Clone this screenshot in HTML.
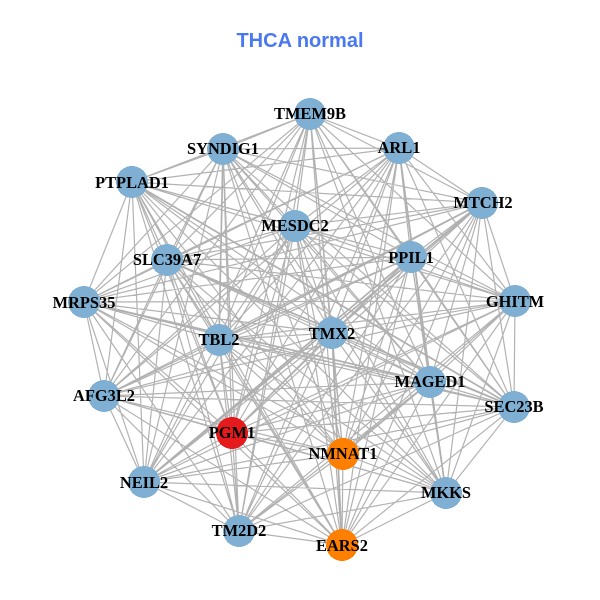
<!DOCTYPE html>
<html>
<head>
<meta charset="utf-8">
<style>
html,body{margin:0;padding:0;background:#fff;width:600px;height:600px;overflow:hidden}
svg{display:block}
.l{font-family:"Liberation Serif",serif;font-weight:bold;font-size:16.4px;fill:#000;text-anchor:middle}
</style>
</head>
<body>
<svg width="600" height="600" viewBox="0 0 600 600" xmlns="http://www.w3.org/2000/svg">
<rect width="600" height="600" fill="#fff"/>
<text x="300" y="47" text-anchor="middle" style="font-family:'Liberation Sans',sans-serif;font-weight:bold;font-size:20px" fill="#4a78f0">THCA normal</text>
<path fill="none" stroke="#b2b2b2" stroke-width="1.2" d="
M310 114 399 148 310 114 482 203 310 114 515 301 310 114 514 407 310 114 446 493 310 114 342 545 310 114 239 531 310 114 144 482 310 114 104 396 310 114 84 302 310 114 132 182 310 114 223 149 310 114 167 260 310 114 295 226 310 114 411 257 310 114 219 340 310 114 332 333 310 114 430 382 310 114 232 433 310 114 343 454
M399 148 482 203 399 148 515 301 399 148 514 407 399 148 446 493 399 148 342 545 399 148 239 531 399 148 144 482 399 148 104 396 399 148 84 302 399 148 132 182 399 148 223 149 399 148 167 260 399 148 295 226 399 148 411 257 399 148 219 340 399 148 332 333 399 148 430 382 399 148 232 433 399 148 343 454
M482 203 515 301 482 203 514 407 482 203 446 493 482 203 342 545 482 203 239 531 482 203 144 482 482 203 104 396 482 203 84 302 482 203 132 182 482 203 223 149 482 203 167 260 482 203 295 226 482 203 411 257 482 203 219 340 482 203 332 333 482 203 430 382 482 203 232 433 482 203 343 454
M515 301 514 407 515 301 446 493 515 301 342 545 515 301 239 531 515 301 144 482 515 301 104 396 515 301 84 302 515 301 132 182 515 301 223 149 515 301 167 260 515 301 295 226 515 301 411 257 515 301 219 340 515 301 332 333 515 301 430 382 515 301 232 433 515 301 343 454
M514 407 446 493 514 407 342 545 514 407 239 531 514 407 144 482 514 407 104 396 514 407 84 302 514 407 132 182 514 407 223 149 514 407 167 260 514 407 295 226 514 407 411 257 514 407 219 340 514 407 332 333 514 407 430 382 514 407 232 433 514 407 343 454
M446 493 342 545 446 493 239 531 446 493 144 482 446 493 104 396 446 493 84 302 446 493 132 182 446 493 223 149 446 493 167 260 446 493 295 226 446 493 411 257 446 493 219 340 446 493 332 333 446 493 430 382 446 493 232 433 446 493 343 454
M342 545 239 531 342 545 144 482 342 545 104 396 342 545 84 302 342 545 132 182 342 545 223 149 342 545 167 260 342 545 295 226 342 545 411 257 342 545 219 340 342 545 332 333 342 545 430 382 342 545 232 433 342 545 343 454
M239 531 144 482 239 531 104 396 239 531 84 302 239 531 132 182 239 531 223 149 239 531 167 260 239 531 295 226 239 531 411 257 239 531 219 340 239 531 332 333 239 531 430 382 239 531 232 433 239 531 343 454
M144 482 104 396 144 482 84 302 144 482 132 182 144 482 223 149 144 482 167 260 144 482 295 226 144 482 411 257 144 482 219 340 144 482 332 333 144 482 430 382 144 482 232 433 144 482 343 454
M104 396 84 302 104 396 132 182 104 396 223 149 104 396 167 260 104 396 295 226 104 396 411 257 104 396 219 340 104 396 332 333 104 396 430 382 104 396 232 433 104 396 343 454
M84 302 132 182 84 302 223 149 84 302 167 260 84 302 295 226 84 302 411 257 84 302 219 340 84 302 332 333 84 302 430 382 84 302 232 433 84 302 343 454
M132 182 223 149 132 182 167 260 132 182 295 226 132 182 411 257 132 182 219 340 132 182 332 333 132 182 430 382 132 182 232 433 132 182 343 454
M223 149 167 260 223 149 295 226 223 149 411 257 223 149 219 340 223 149 332 333 223 149 430 382 223 149 232 433 223 149 343 454
M167 260 295 226 167 260 411 257 167 260 219 340 167 260 332 333 167 260 430 382 167 260 232 433 167 260 343 454
M295 226 411 257 295 226 219 340 295 226 332 333 295 226 430 382 295 226 232 433 295 226 343 454
M411 257 219 340 411 257 332 333 411 257 430 382 411 257 232 433 411 257 343 454
M219 340 332 333 219 340 430 382 219 340 232 433 219 340 343 454
M332 333 430 382 332 333 232 433 332 333 343 454
M430 382 232 433 430 382 343 454
M232 433 343 454"/>
<path fill="none" stroke="#b0b0b0" stroke-width="1.7" d="
M399 148 430 382
M430 382 446 493
M332 333 342 545
M343 454 430 382
M167 260 514 407
M223 149 219 340
M482 203 219 340
M482 203 144 482
M411 257 144 482
M84 302 430 382
M132 182 514 407"/>
<g shape-rendering="crispEdges">
<circle cx="310" cy="114" r="16" fill="#7fb0d4"/>
<circle cx="399" cy="148" r="16" fill="#7fb0d4"/>
<circle cx="482" cy="203" r="16" fill="#7fb0d4"/>
<circle cx="515" cy="301" r="16" fill="#7fb0d4"/>
<circle cx="514" cy="407" r="16" fill="#7fb0d4"/>
<circle cx="446" cy="493" r="16" fill="#7fb0d4"/>
<circle cx="342" cy="545" r="16" fill="#ff7f00"/>
<circle cx="239" cy="531" r="16" fill="#7fb0d4"/>
<circle cx="144" cy="482" r="16" fill="#7fb0d4"/>
<circle cx="104" cy="396" r="16" fill="#7fb0d4"/>
<circle cx="84" cy="302" r="16" fill="#7fb0d4"/>
<circle cx="132" cy="182" r="16" fill="#7fb0d4"/>
<circle cx="223" cy="149" r="16" fill="#7fb0d4"/>
<circle cx="167" cy="260" r="16" fill="#7fb0d4"/>
<circle cx="295" cy="226" r="16" fill="#7fb0d4"/>
<circle cx="411" cy="257" r="16" fill="#7fb0d4"/>
<circle cx="219" cy="340" r="16" fill="#7fb0d4"/>
<circle cx="332" cy="333" r="16" fill="#7fb0d4"/>
<circle cx="430" cy="382" r="16" fill="#7fb0d4"/>
<circle cx="232" cy="433" r="16" fill="#e41a1c"/>
<circle cx="343" cy="454" r="16" fill="#ff7f00"/>
</g>
<text class="l" x="310" y="119">TMEM9B</text>
<text class="l" x="399" y="153">ARL1</text>
<text class="l" x="483" y="208">MTCH2</text>
<text class="l" x="515" y="307">GHITM</text>
<text class="l" x="514" y="412">SEC23B</text>
<text class="l" x="446" y="498">MKKS</text>
<text class="l" x="342" y="551">EARS2</text>
<text class="l" x="239" y="536">TM2D2</text>
<text class="l" x="144" y="488">NEIL2</text>
<text class="l" x="104" y="401">AFG3L2</text>
<text class="l" x="84" y="308">MRPS35</text>
<text class="l" x="132" y="188">PTPLAD1</text>
<text class="l" x="223" y="154">SYNDIG1</text>
<text class="l" x="167" y="265">SLC39A7</text>
<text class="l" x="295" y="231">MESDC2</text>
<text class="l" x="411" y="263">PPIL1</text>
<text class="l" x="219" y="345">TBL2</text>
<text class="l" x="332" y="339">TMX2</text>
<text class="l" x="430" y="387">MAGED1</text>
<text class="l" x="232" y="438">PGM1</text>
<text class="l" x="343" y="459">NMNAT1</text>
</svg>
</body>
</html>
